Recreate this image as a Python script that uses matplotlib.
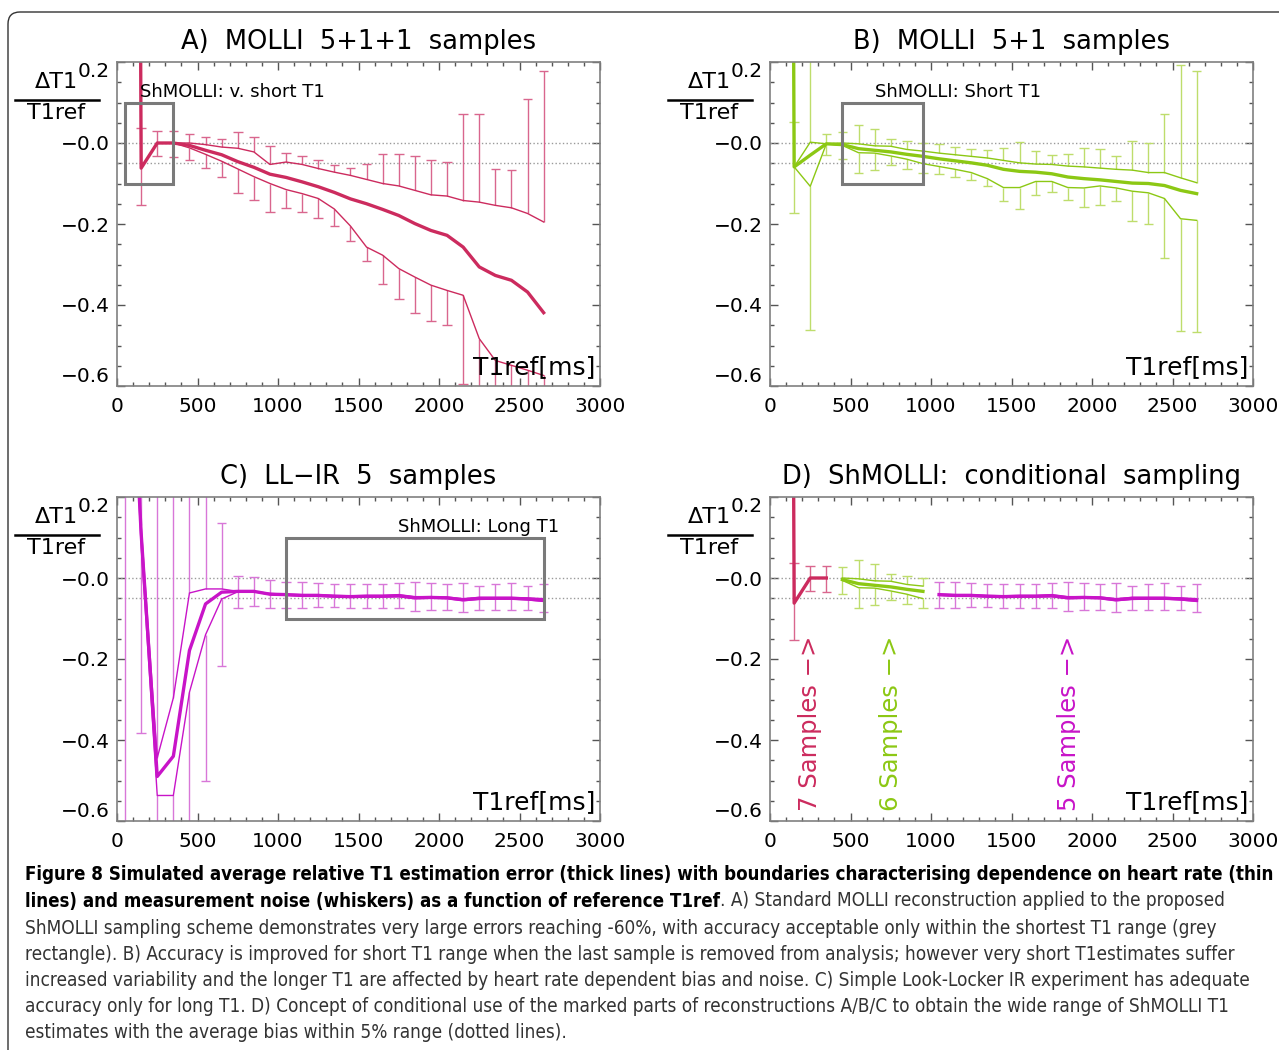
import numpy as np
import matplotlib
matplotlib.use('Agg')
import matplotlib.pyplot as plt
from matplotlib import font_manager
from matplotlib.patches import Rectangle, FancyBboxPatch
from matplotlib.transforms import IdentityTransform, blended_transform_factory
from matplotlib.ticker import MultipleLocator, FixedLocator
from matplotlib.lines import Line2D

# reference T1 grid [ms]
t1ref = np.array([50, 150, 250, 350, 450, 550, 650, 750, 850, 950, 1050, 1150, 1250, 1350,
                  1450, 1550, 1650, 1750, 1850, 1950, 2050, 2150, 2250, 2350, 2450, 2550, 2650])
nan = np.nan

# A) MOLLI 5+1+1 : mean, heart-rate bounds (hi/lo), whisker ends (top/bot)
a_mean = [9.0, -0.062, 0.0, 0.0, -0.006, -0.018, -0.029, -0.046, -0.060, -0.077, -0.085, -0.096, -0.108,
          -0.122, -0.138, -0.150, -0.164, -0.179, -0.199, -0.216, -0.228, -0.257, -0.306, -0.327, -0.339,
          -0.368, -0.419]
a_hi = [9.0, -0.062, 0.0, 0.0, 0.0, -0.004, -0.010, -0.013, -0.022, -0.053, -0.047, -0.053, -0.063,
        -0.072, -0.080, -0.090, -0.100, -0.106, -0.117, -0.128, -0.131, -0.142, -0.146, -0.154, -0.160,
        -0.174, -0.195]
a_lo = [9.0, -0.062, 0.0, 0.0, -0.012, -0.028, -0.045, -0.064, -0.083, -0.100, -0.115, -0.125, -0.137,
        -0.163, -0.205, -0.257, -0.277, -0.310, -0.331, -0.351, -0.364, -0.376, -0.483, -0.537, -0.549,
        -0.561, -0.574]
a_top = [nan, 0.037, 0.029, 0.029, 0.023, 0.015, 0.011, 0.027, 0.015, -0.008, -0.025, -0.031, -0.043,
         -0.054, -0.062, -0.053, -0.028, -0.026, -0.032, -0.041, -0.047, 0.072, 0.072, -0.063, -0.067,
         0.109, 0.179]
a_bot = [nan, -0.153, -0.031, -0.034, -0.042, -0.062, -0.083, -0.123, -0.140, -0.170, -0.160, -0.170,
         -0.186, -0.205, -0.243, -0.292, -0.347, -0.386, -0.419, -0.440, -0.450, -0.594, -0.65, -0.65,
         -0.65, -0.65, -0.65]

# B) MOLLI 5+1
b_mean = [9.0, -0.059, -0.030, -0.002, -0.004, -0.014, -0.018, -0.022, -0.028, -0.033, -0.039, -0.044,
          -0.049, -0.055, -0.065, -0.070, -0.072, -0.076, -0.084, -0.088, -0.091, -0.095, -0.099, -0.100,
          -0.105, -0.117, -0.125]
b_hi = [9.0, -0.059, 0.002, -0.002, 0.0, -0.002, -0.007, -0.008, -0.016, -0.020, -0.025, -0.029, -0.033,
        -0.037, -0.043, -0.049, -0.052, -0.053, -0.057, -0.059, -0.062, -0.065, -0.067, -0.073, -0.073,
        -0.086, -0.098]
b_lo = [9.0, -0.059, -0.107, -0.002, -0.006, -0.024, -0.025, -0.032, -0.040, -0.051, -0.058, -0.065,
        -0.073, -0.088, -0.110, -0.110, -0.095, -0.095, -0.110, -0.111, -0.106, -0.111, -0.119, -0.123,
        -0.137, -0.187, -0.191]
b_top = [nan, 0.053, 0.30, 0.022, 0.027, 0.045, 0.035, 0.011, 0.004, 0.001, -0.002, -0.010, -0.014,
         -0.018, -0.013, 0.002, -0.019, -0.029, -0.026, -0.012, -0.016, -0.033, 0.004, 0.001, 0.072,
         0.192, 0.179]
b_bot = [nan, -0.172, -0.461, -0.029, -0.039, -0.073, -0.067, -0.055, -0.063, -0.073, -0.076, -0.084,
         -0.092, -0.105, -0.142, -0.162, -0.129, -0.121, -0.140, -0.158, -0.152, -0.144, -0.193, -0.199,
         -0.284, -0.464, -0.467]

# C) LL-IR 5 samples
c_mean = [0.9, 0.11, -0.490, -0.440, -0.179, -0.064, -0.035, -0.033, -0.033, -0.040, -0.041, -0.043,
          -0.043, -0.045, -0.046, -0.045, -0.045, -0.044, -0.049, -0.048, -0.049, -0.054, -0.050, -0.050,
          -0.050, -0.052, -0.055]
c_hi = [0.9, 0.13, -0.444, -0.296, -0.037, -0.027, -0.027, -0.033, -0.033, -0.038, -0.040, -0.041,
        -0.041, -0.043, -0.044, -0.043, -0.043, -0.041, -0.046, -0.046, -0.047, -0.051, -0.048, -0.048,
        -0.048, -0.049, -0.051]
c_lo = [0.9, 0.08, -0.537, -0.537, -0.282, -0.140, -0.052, -0.034, -0.034, -0.041, -0.043, -0.045,
        -0.045, -0.047, -0.048, -0.047, -0.047, -0.046, -0.051, -0.050, -0.051, -0.056, -0.053, -0.052,
        -0.052, -0.054, -0.058]
c_top = [1.0, 0.5, 0.5, 0.5, 0.5, 0.5, 0.137, 0.006, 0.002, -0.006, -0.010, -0.010, -0.012, -0.015,
         -0.015, -0.015, -0.015, -0.012, -0.011, -0.013, -0.015, -0.012, -0.019, -0.015, -0.012, -0.019,
         -0.015]
c_bot = [-0.7, -0.383, -0.7, -0.7, -0.7, -0.502, -0.218, -0.074, -0.070, -0.074, -0.074, -0.074, -0.072,
         -0.072, -0.075, -0.075, -0.075, -0.075, -0.081, -0.078, -0.078, -0.084, -0.078, -0.078, -0.078,
         -0.078, -0.084]

RED, RED_W = '#cc2b5e', '#d9668e'
GREEN, GREEN_W = '#8cc814', '#bedd6c'
MAG, MAG_W = '#c814c8', '#d877d8'


def draw_set(ax, mask, mean, hi, lo, top, bot, color, wcolor):
    x = t1ref[mask]
    mean, hi, lo = np.array(mean)[mask], np.array(hi)[mask], np.array(lo)[mask]
    top, bot = np.array(top)[mask], np.array(bot)[mask]
    ok = ~np.isnan(top)
    ax.vlines(x[ok], hi[ok], top[ok], color=wcolor, lw=1.0)
    ax.hlines(top[ok], x[ok] - 30, x[ok] + 30, color=wcolor, lw=1.0)
    ax.vlines(x[ok], lo[ok], bot[ok], color=wcolor, lw=1.0)
    ax.hlines(bot[ok], x[ok] - 30, x[ok] + 30, color=wcolor, lw=1.0)
    ax.plot(x, hi, color=color, lw=1.0)
    ax.plot(x, lo, color=color, lw=1.0)
    ax.plot(x, mean, color=color, lw=2.4)


def setup(ax, title):
    ax.set_xlim(0, 3000)
    ax.set_ylim(-0.6, 0.2)
    ax.xaxis.set_major_locator(MultipleLocator(500))
    ax.xaxis.set_minor_locator(MultipleLocator(100))
    ax.yaxis.set_major_locator(FixedLocator([-0.6, -0.4, -0.2, 0.0, 0.2]))
    ax.yaxis.set_minor_locator(MultipleLocator(0.05))
    ax.set_yticklabels(['\u22120.6', '\u22120.4', '\u22120.2', '\u22120.0', '0.2'])
    ax.tick_params(which='both', direction='in', top=True, right=True, color='#555555',
                   labelsize=14.5, labelcolor='black')
    ax.tick_params(which='major', length=6, width=1)
    ax.tick_params(which='minor', length=3, width=1)
    ax.tick_params(axis='x', pad=8)
    ax.tick_params(axis='y', pad=5)
    for s in ax.spines.values():
        s.set_color('#808080')
        s.set_linewidth(1.2)
    ticks = ax.yaxis.get_major_ticks()
    ticks[0].label1.set_va('bottom')
    ticks[-1].label1.set_va('top')
    ax.axhline(0.0, ls=':', color='#9a9a9a', lw=1)
    ax.axhline(-0.05, ls=':', color='#9a9a9a', lw=1)
    ax.text(0.5, 1.062, title, transform=ax.transAxes, ha='center', va='center', fontsize=18.5)
    # y label drawn as a fraction  dT1 / T1ref
    tr = blended_transform_factory(ax.transAxes, ax.transData)
    ax.text(-0.126, 0.150, '\u0394T1', transform=tr, ha='center', va='center', fontsize=16)
    ax.text(-0.126, 0.074, 'T1ref', transform=tr, ha='center', va='center', fontsize=16)
    ax.add_line(Line2D([-0.211, -0.037], [0.107, 0.107], transform=tr, color='black', lw=1.8,
                       clip_on=False))
    ax.text(0.99, -0.553, 'T1ref[ms]', transform=tr, ha='right', va='center', fontsize=18)


fig = plt.figure(figsize=(12.79, 10.5), dpi=100)
W, H = 1279.0, 1050.0
pos = {'A': (117, 62), 'B': (770, 62), 'C': (117, 497), 'D': (770, 497)}
axs = {}
for k, (l, t) in pos.items():
    axs[k] = fig.add_axes([l / W, 1 - (t + 324) / H, 483 / W, 324 / H])

allm = np.ones(len(t1ref), dtype=bool)

ax = axs['A']
setup(ax, 'A)  MOLLI  5+1+1  samples')
draw_set(ax, allm, a_mean, a_hi, a_lo, a_top, a_bot, RED, RED_W)
ax.add_patch(Rectangle((50, -0.1), 300, 0.2, fill=False, ec='#7a7a7a', lw=2.2, zorder=5))
ax.text(145, 0.125, 'ShMOLLI: v. short T1', fontsize=13, va='center', ha='left')

ax = axs['B']
setup(ax, 'B)  MOLLI  5+1  samples')
draw_set(ax, allm, b_mean, b_hi, b_lo, b_top, b_bot, GREEN, GREEN_W)
ax.add_patch(Rectangle((450, -0.1), 500, 0.2, fill=False, ec='#7a7a7a', lw=2.2, zorder=5))
ax.text(650, 0.125, 'ShMOLLI: Short T1', fontsize=13, va='center', ha='left')

ax = axs['C']
setup(ax, 'C)  LL\u2212IR  5  samples')
draw_set(ax, allm, c_mean, c_hi, c_lo, c_top, c_bot, MAG, MAG_W)
ax.add_patch(Rectangle((1050, -0.1), 1600, 0.2, fill=False, ec='#7a7a7a', lw=2.2, zorder=5))
ax.text(1746, 0.125, 'ShMOLLI: Long T1', fontsize=13, va='center', ha='left')

ax = axs['D']
setup(ax, 'D)  ShMOLLI:  conditional  sampling')
draw_set(ax, t1ref <= 350, a_mean, a_hi, a_lo, a_top, a_bot, RED, RED_W)
draw_set(ax, (t1ref >= 450) & (t1ref <= 950), b_mean, b_hi, b_lo, b_top, b_bot, GREEN, GREEN_W)
draw_set(ax, t1ref >= 1050, c_mean, c_hi, c_lo, c_top, c_bot, MAG, MAG_W)
for xx, s, c in [(250, '7 Samples \u2212>', RED), (750, '6 Samples \u2212>', GREEN),
                 (1860, '5 Samples \u2212>', MAG)]:
    ax.text(xx, -0.575, s, rotation=90, color=c, fontsize=17.5, ha='center', va='bottom')

# rounded frame around the figure
fig.add_artist(FancyBboxPatch((8, -40), 1400, 1078, boxstyle='round,pad=0,rounding_size=12',
                              transform=IdentityTransform(), fill=False, ec='#333333', lw=1.0))

# caption
names = {f.name for f in font_manager.fontManager.ttflist}
if 'Liberation Sans Narrow' in names:
    cap_font = dict(family='Liberation Sans Narrow')
else:
    cap_font = dict(family='DejaVu Sans', stretch='condensed')

cap_lines = [
    ('Figure 8 Simulated average relative T1 estimation error (thick lines) with boundaries characterising dependence on heart rate (thin', ''),
    ('lines) and measurement noise (whiskers) as a function of reference T1ref', '. A) Standard MOLLI reconstruction applied to the proposed'),
    ('', 'ShMOLLI sampling scheme demonstrates very large errors reaching -60%, with accuracy acceptable only within the shortest T1 range (grey'),
    ('', 'rectangle). B) Accuracy is improved for short T1 range when the last sample is removed from analysis; however very short T1estimates suffer'),
    ('', 'increased variability and the longer T1 are affected by heart rate dependent bias and noise. C) Simple Look-Locker IR experiment has adequate'),
    ('', 'accuracy only for long T1. D) Concept of conditional use of the marked parts of reconstructions A/B/C to obtain the wide range of ShMOLLI T1'),
    ('', 'estimates with the average bias within 5% range (dotted lines).'),
]
cap_y = [875, 901, 928, 954, 981, 1007, 1033]

renderer = fig.canvas.get_renderer()
probe = fig.text(0, 0, cap_lines[4][1], fontsize=12, **cap_font)
fs = 12 * 1230.0 / probe.get_window_extent(renderer).width
probe.remove()
probe = fig.text(0, 0, cap_lines[0][0], fontsize=12, fontweight='bold', **cap_font)
fs_b = 12 * 1248.0 / probe.get_window_extent(renderer).width
probe.remove()

for (bold, reg), yy in zip(cap_lines, cap_y):
    x0 = 25.0
    if bold:
        t = fig.text(x0 / W, 1 - yy / H, bold, fontsize=fs_b, fontweight='bold', color='black',
                     va='center', ha='left', **cap_font)
        x0 = t.get_window_extent(renderer).x1
    if reg:
        fig.text(x0 / W, 1 - yy / H, reg, fontsize=fs, color='#333333', va='center', ha='left',
                 **cap_font)

fig.savefig('out.png', dpi=100)
